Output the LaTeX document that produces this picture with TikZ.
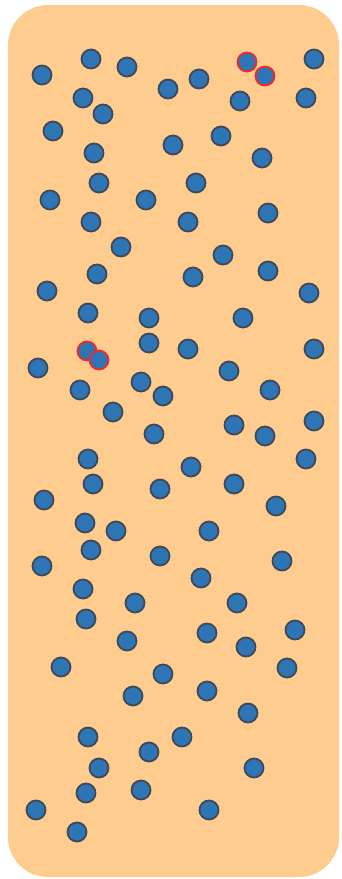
\documentclass[tikz,border=0pt]{standalone}
\definecolor{panel}{RGB}{255,204,143}
\definecolor{dotfill}{RGB}{46,117,182}
\definecolor{dotline}{RGB}{64,72,88}
\definecolor{hilite}{RGB}{240,40,40}
\tikzset{
  dotc/.style={fill=dotfill,draw=dotline,line width=1.8pt},
  hotc/.style={fill=dotfill,draw=hilite,line width=1.8pt},
}
\begin{document}
\begin{tikzpicture}[x=1pt,y=-1pt]
\useasboundingbox (0,0) rectangle (341,879);
\fill[panel,rounded corners=40pt] (8,5) rectangle (339,877);
\foreach \x/\y in {
42/75, 91/59, 127/67, 168/89, 199/79, 314/59, 83/98, 103/114, 240/101, 306/98,
53/131, 221/136, 94/153, 173/145, 262/158,
99/183, 196/183, 50/200, 146/200, 268/213, 91/222, 188/222, 121/247, 223/255,
97/274, 193/277, 268/271, 47/291, 309/293,
88/313, 149/318, 243/318, 149/343, 188/349, 314/349, 38/368, 229/371,
80/390, 141/382, 163/396, 270/390, 113/412, 314/421, 234/425, 265/436, 154/434,
88/459, 191/467, 306/459, 93/484, 160/489, 234/484, 44/500, 276/506,
85/523, 116/531, 209/531, 91/550, 160/556, 282/561, 42/566, 201/578,
83/589, 135/603, 237/603, 86/619, 207/633, 295/630, 127/641, 246/647,
61/667, 163/674, 287/668, 133/696, 207/691, 248/713,
88/737, 182/737, 149/752, 99/768, 254/768, 86/793, 141/790, 36/810, 209/810, 77/832}
  \draw[dotc] (\x,\y) circle (9.5pt);
\foreach \x/\y in {247/62, 265/76, 87/351, 99/360}
  \draw[hotc] (\x,\y) circle (9.5pt);
\end{tikzpicture}
\end{document}
